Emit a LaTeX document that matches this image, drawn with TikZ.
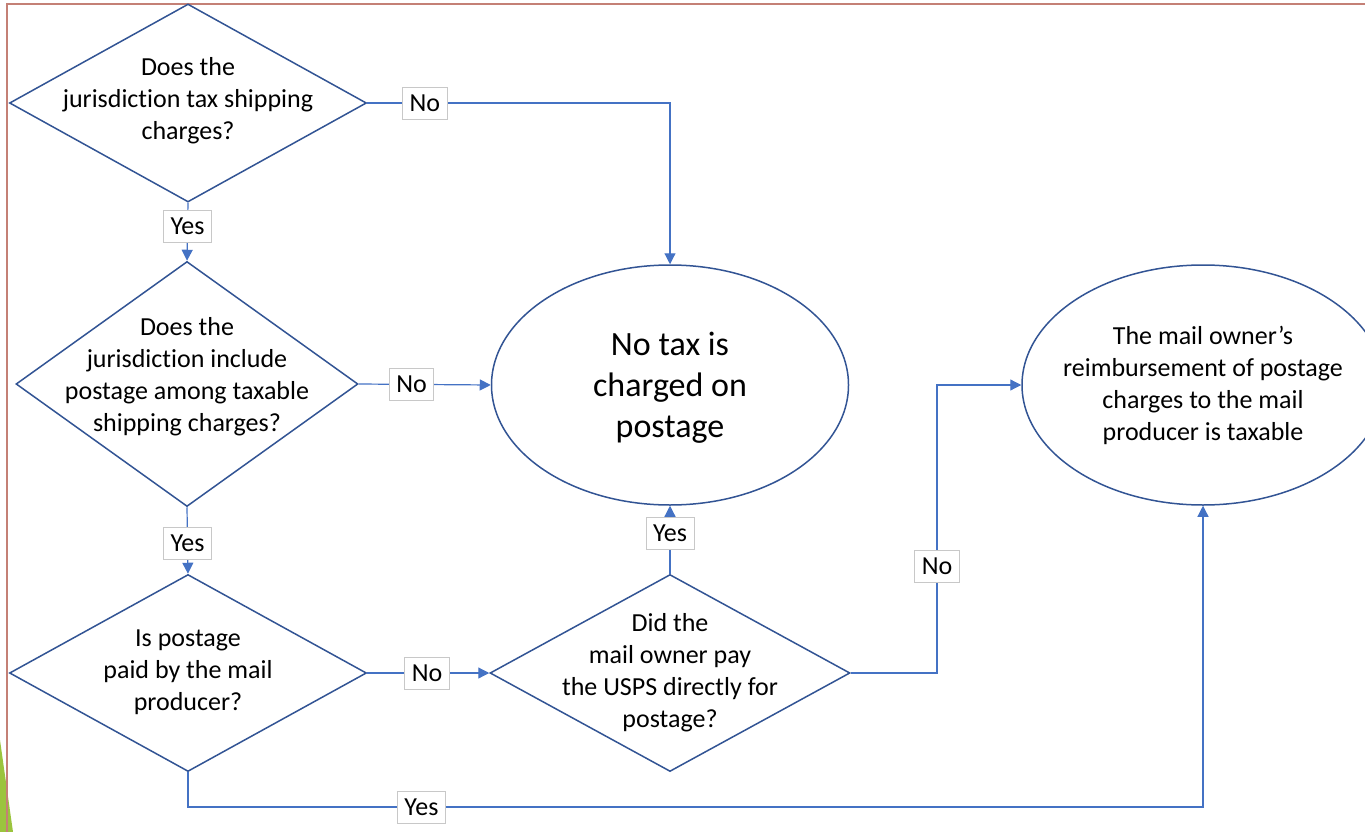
\documentclass[tikz,border=0pt]{standalone}
\usepackage{fontspec}
\setmainfont{Carlito}[Ligatures=NoCommon]
\usetikzlibrary{shapes.geometric,arrows.meta,calc}
\definecolor{shapeblue}{RGB}{50,84,148}
\definecolor{connblue}{RGB}{68,114,196}
\definecolor{lblgray}{RGB}{200,200,200}
\definecolor{frame}{RGB}{196,128,118}
\definecolor{leaf}{RGB}{155,196,62}
\tikzset{
  dia/.style={draw=shapeblue, line width=1.5pt, shape=diamond, inner sep=0pt, fill=white},
  ell/.style={draw=shapeblue, line width=1.5pt, shape=ellipse, inner sep=0pt, fill=white},
  txt/.style={align=center, font=\fontsize{26}{32}\selectfont, inner sep=0pt},
  bigtxt/.style={align=center, font=\fontsize{34}{41}\selectfont, inner sep=0pt},
  conn/.style={draw=connblue, line width=1.2pt, -{Triangle[length=11pt,width=11pt]}},
  lbl/.style={draw=lblgray, line width=0.8pt, fill=white, font=\fontsize{26}{28}\selectfont,
              inner xsep=7pt, inner ysep=0pt, minimum height=32pt}
}
\begin{document}
\begin{tikzpicture}[x=1pt,y=-1pt]
\useasboundingbox (0,0) rectangle (1365,832);
\clip (0,0) rectangle (1365,832);
% slide decoration
\fill[leaf] (0,740) -- (13,832) -- (0,832) -- cycle;
\draw[frame, line width=1.5pt] (7,832) -- (7,4) -- (1365,4);

% decision diamonds
\node[dia, minimum width=357pt, minimum height=198pt,
      label={[txt, yshift=2pt]center:{Does the\\jurisdiction tax shipping\\charges?}}] (d1) at (188,103) {};
\node[dia, minimum width=342pt, minimum height=245pt,
      label={[txt, yshift=7pt]center:{Does the\\jurisdiction include\\postage among taxable\\shipping charges?}}] (d2) at (187,384) {};
\node[dia, minimum width=357pt, minimum height=197pt,
      label={[txt, yshift=1pt]center:{Is postage\\paid by the mail\\producer?}}] (d3) at (188,673) {};
\node[dia, minimum width=360pt, minimum height=197pt,
      label={[txt]center:{Did the\\mail owner pay\\the USPS directly for\\postage?}}] (d4) at (670,673) {};

% outcomes
\node[ell, minimum width=357pt, minimum height=240pt,
      label={[bigtxt, yshift=-3pt]center:{No tax is\\charged on\\postage}}] (e1) at (670,385) {};
\node[ell, minimum width=362pt, minimum height=240pt,
      label={[txt]center:{The mail owner’s\\reimbursement of postage\\charges to the mail\\producer is taxable}}] (e2) at (1203,385) {};

\coordinate (k1) at (937,0);
\coordinate (k2) at (0,807);

% connectors
\draw[conn] (d1.east) -- node[lbl, pos=0.19] {No} (d1.east -| e1.north) -- (e1.north);
\draw[conn] (d1.south) -- node[lbl, pos=0.41] {Yes} (d2.north);
\draw[conn] (d2.east) -- node[lbl, pos=0.40] {No} (e1.west);
\draw[conn] (d2.south) -- node[lbl, pos=0.54] {Yes} (d3.north);
\draw[conn] (d3.east) -- node[lbl, pos=0.49] {No} (d4.west);
\draw[conn] (d4.north) -- node[lbl, pos=0.59] {Yes} (e1.south);
\draw[conn] (d4.east) -- (d4.east -| k1) -- node[lbl, pos=0.37] {No} (k1 |- e2.west) -- (e2.west);
\draw[conn] (d3.south) -- (d3.south |- k2) -- node[lbl, pos=0.23] {Yes} (e2.south |- k2) -- (e2.south);
\end{tikzpicture}
\end{document}
